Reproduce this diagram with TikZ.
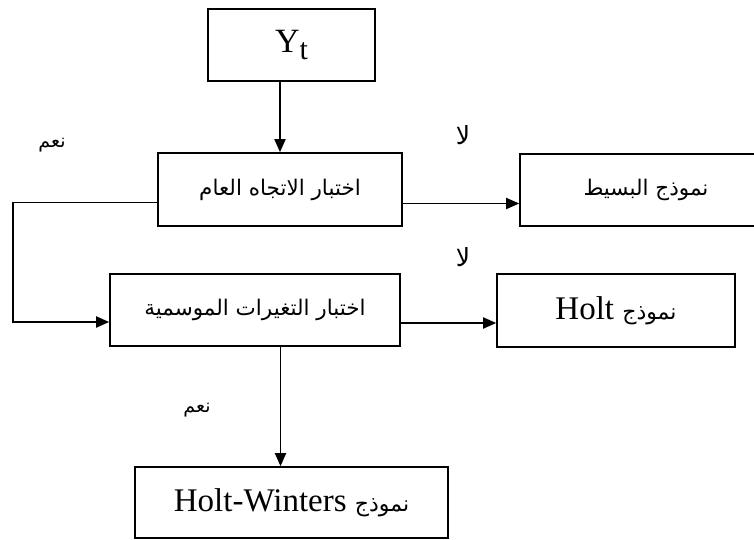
\documentclass[tikz,border=0pt]{standalone}
\usepackage{fontspec}
\setmainfont{Liberation Serif}
\newfontfamily\arabicfont[Script=Arabic]{DejaVu Sans}
\TeXXeTstate=1
\usetikzlibrary{arrows.meta}
\begin{document}
\begin{tikzpicture}[x=1pt,y=-1pt,line width=1.6pt,
  box/.style={draw,rectangle,inner sep=0pt,line width=1.6pt},
  arr/.style={line width=1.8pt,-{Triangle[length=13pt,width=11pt]}},
  ar/.style={font=\arabicfont\fontsize{21.5}{26}\selectfont},
  lbl/.style={font=\arabicfont\fontsize{19}{22}\selectfont},
  nolbl/.style={font=\arabicfont\fontsize{25}{28}\selectfont},
  lat/.style={font=\fontsize{33}{36}\selectfont}]
\useasboundingbox (0,0) rectangle (754,540);
\clip (0,0) rectangle (754,540);
\node[box,minimum width=167pt,minimum height=72pt] (Y) at (291.5,45)
  {\fontsize{34}{36}\selectfont Y\raisebox{-7pt}{\fontsize{30}{32}\selectfont t}};
\node[box,ar,minimum width=244pt,minimum height=73pt] (T) at (280,189.5)
  {\beginR اختبار الاتجاه العام\endR};
\node[box,ar,minimum width=252pt,minimum height=72pt] (S) at (646,190)
  {\beginR نموذج البسيط\endR};
\node[box,ar,minimum width=290pt,minimum height=72pt] (Se) at (255,310)
  {\beginR اختبار التغيرات الموسمية\endR};
\node[box,lat,minimum width=238pt,minimum height=73pt] (Ho) at (616,310.5)
  {\beginR{\arabicfont\fontsize{22}{26}\selectfont نموذج} \beginL Holt\endL\endR};
\node[box,lat,minimum width=313pt,minimum height=71pt] (HW) at (291.5,502.5)
  {\beginR{\arabicfont\fontsize{22}{26}\selectfont نموذج} \beginL Holt-Winters\endL\endR};
\node[lbl] (n1) at (52,145) {\beginR نعم\endR};
\node[nolbl] (l1) at (463,135) {\beginR لا\endR};
\node[nolbl] (l2) at (463,257) {\beginR لا\endR};
\node[lbl] (n2) at (197,410) {\beginR نعم\endR};
\draw[arr] (T.north |- Y.south) -- (T.north);
\draw[arr] ([yshift=-14pt]T.east) -- ([yshift=-14pt]T.east -| S.west);
\draw[arr] ([yshift=-13pt]T.west) -- ++(-144,0) coordinate (c1)
  |- ([yshift=-12pt]Se.west);
\draw[arr] ([yshift=-13pt]Se.east) -- ([yshift=-13pt]Se.east -| Ho.west);
\draw[arr] ([xshift=-11pt]HW.north |- Se.south) -- ([xshift=-11pt]HW.north);
\end{tikzpicture}
\end{document}
